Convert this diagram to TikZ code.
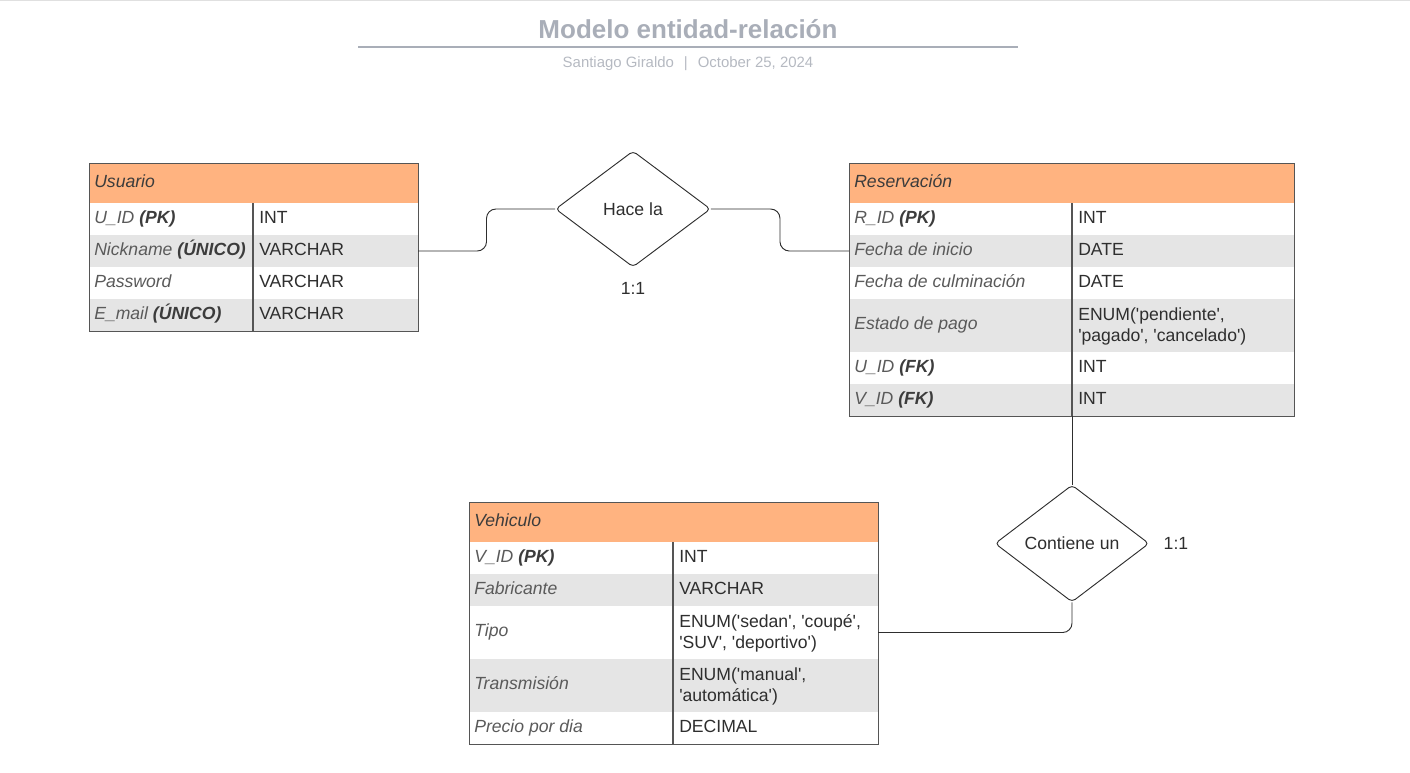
\documentclass[tikz,border=0pt]{standalone}
\usepackage{fontspec}
\newfontfamily\cellsans{Liberation Sans}
\usetikzlibrary{shapes.geometric,positioning,calc}

\definecolor{hdrorange}{HTML}{FFB380}
\definecolor{rowgray}{HTML}{E5E5E5}
\definecolor{linec}{HTML}{555555}
\definecolor{attrc}{HTML}{5A5A5A}
\definecolor{keyc}{HTML}{3C3C3C}
\definecolor{typec}{HTML}{2E2E2E}
\definecolor{titlec}{HTML}{A9AEB8}
\definecolor{subc}{HTML}{B5B9C1}

\newcommand{\pxl}{0.75pt}
\newcommand{\cellfont}{\cellsans\fontsize{13.2}{15.75}\selectfont}
\newcommand{\keytag}[1]{{\bfseries\color{keyc}(#1)}}

\begin{document}
\begin{tikzpicture}[
    x=0.75pt, y=-0.75pt,
    hdrbox/.style={fill=hdrorange, draw=linec, line width=0.8pt, anchor=north west, inner sep=0pt, minimum height=40*\pxl},
    rowbox/.style={anchor=north west, inner sep=0pt, outer sep=0pt},
    framebox/.style={draw=linec, line width=0.8pt, anchor=north west, inner sep=0pt},
    tline/.style={draw=linec, line width=0.8pt},
    attr/.style={anchor=west, inner sep=0pt, text=attrc, font=\cellfont\itshape, text height=9.5pt, text depth=3pt},
    typ/.style={anchor=west, inner sep=0pt, text=typec, font=\cellfont, align=left},
    one/.style={text height=9.5pt, text depth=3pt},
    two/.style={yshift=-0.8pt},
    rel/.style={diamond, draw=typec, line width=0.7pt, rounded corners=3pt, inner sep=0pt,
        minimum width=155*\pxl, minimum height=116*\pxl, font=\cellfont, text=typec},
    conn/.style={draw=typec, line width=0.7pt, rounded corners=7pt},
    card/.style={inner sep=0pt, font=\cellfont, text=typec}
]
    \useasboundingbox (0,0) rectangle (1410,772);
    \draw[black!12] (0,0.5) -- (1410,0.5);

    \node[font=\cellsans\bfseries\fontsize{19.5}{22}\selectfont, text=titlec] (title) at (688,29) {Modelo entidad-relación};
    \draw[titlec, line width=1.5pt] (358,47) -- (1018,47);
    \node[font=\cellsans\fontsize{11.2}{13}\selectfont, text=subc] (byline) at (688,64)
        {Santiago Giraldo\hspace{7.5pt}|\hspace{7.5pt}October 25, 2024};

    % Usuario
    \node[hdrbox, minimum width=329*\pxl] (usuario-h) at (89,163) {};
    \node[attr, text=keyc] (usuario-t) at ([xshift=5*\pxl]usuario-h.west) {Usuario};
    \foreach \n/\t/\h/\f/\s/\a/\b in {
        u1/203/32/white/one/{U\_ID \keytag{PK}}/INT,
        u2/235/32/rowgray/one/{Nickname \keytag{ÚNICO}}/VARCHAR,
        u3/267/32/white/one/Password/VARCHAR,
        u4/299/32/rowgray/one/{E\_mail \keytag{ÚNICO}}/VARCHAR%
    }{
        \node[rowbox, fill=\f, minimum width=329*\pxl, minimum height=\h*\pxl] (\n) at (89,\t) {};
        \node[attr] (\n-a) at ([xshift=5*\pxl]\n.west) {\a};
        \node[typ, \s] (\n-t) at (259,{\t+\h/2}) {\b};
    }
    \draw[tline] (253,203) -- (253,331);
    \node[framebox, minimum width=329*\pxl, minimum height=168*\pxl] (usuario) at (89,163) {};

    % Reservacion
    \node[hdrbox, minimum width=445*\pxl] (reserva-h) at (849,163) {};
    \node[attr, text=keyc] (reserva-t) at ([xshift=5*\pxl]reserva-h.west) {Reservación};
    \foreach \n/\t/\h/\f/\s/\a/\b in {
        r1/203/32/white/one/{R\_ID \keytag{PK}}/INT,
        r2/235/32/rowgray/one/Fecha de inicio/DATE,
        r3/267/32/white/one/Fecha de culminación/DATE,
        r4/299/53/rowgray/two/Estado de pago/{ENUM('pendiente',\\'pagado', 'cancelado')},
        r5/352/32/white/one/{U\_ID \keytag{FK}}/INT,
        r6/384/32/rowgray/one/{V\_ID \keytag{FK}}/INT%
    }{
        \node[rowbox, fill=\f, minimum width=445*\pxl, minimum height=\h*\pxl] (\n) at (849,\t) {};
        \node[attr] (\n-a) at ([xshift=5*\pxl]\n.west) {\a};
        \node[typ, \s] (\n-t) at (1078,{\t+\h/2}) {\b};
    }
    \draw[tline] (1072,203) -- (1072,416);
    \node[framebox, minimum width=445*\pxl, minimum height=253*\pxl] (reserva) at (849,163) {};

    % Vehiculo
    \node[hdrbox, minimum width=409*\pxl] (vehiculo-h) at (469,502) {};
    \node[attr, text=keyc] (vehiculo-t) at ([xshift=5*\pxl]vehiculo-h.west) {Vehiculo};
    \foreach \n/\t/\h/\f/\s/\a/\b in {
        v1/542/32/white/one/{V\_ID \keytag{PK}}/INT,
        v2/574/32/rowgray/one/Fabricante/VARCHAR,
        v3/606/53/white/two/Tipo/{ENUM('sedan', 'coupé',\\'SUV', 'deportivo')},
        v4/659/53/rowgray/two/Transmisión/{ENUM('manual',\\'automática')},
        v5/712/32/white/one/Precio por dia/DECIMAL%
    }{
        \node[rowbox, fill=\f, minimum width=409*\pxl, minimum height=\h*\pxl] (\n) at (469,\t) {};
        \node[attr] (\n-a) at ([xshift=5*\pxl]\n.west) {\a};
        \node[typ, \s] (\n-t) at (679,{\t+\h/2}) {\b};
    }
    \draw[tline] (673,542) -- (673,744);
    \node[framebox, minimum width=409*\pxl, minimum height=242*\pxl] (vehiculo) at (469,502) {};

    % relaciones
    \node[rel] (hace) at (633,209) {Hace la};
    \node[card, below=11pt of hace] (hace-card) {1:1};
    \node[rel, minimum width=154*\pxl, minimum height=117*\pxl] (contiene) at (1072,543.5) {Contiene un};
    \node[card, right=10.5pt of contiene] (contiene-card) {1:1};

    \draw[conn] (u2.east) -| ($(u2.east)!.5!(hace.west)$) |- (hace.west);
    \draw[conn] (hace.east) -| ($(hace.east)!.5!(r2.west)$) |- (r2.west);
    \draw[conn] (contiene.north) -- (contiene.north |- r6.south);
    \draw[conn] (contiene.south) |- (v3.east);
\end{tikzpicture}
\end{document}
